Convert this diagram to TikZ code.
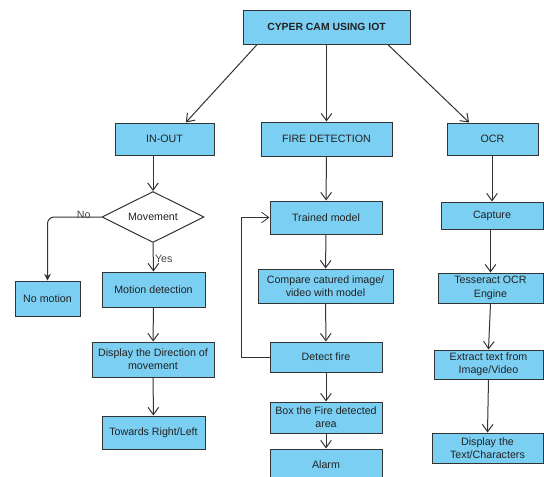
\documentclass[tikz,border=0pt]{standalone}
\usepackage{fontspec}
\setmainfont{Liberation Sans}
\usetikzlibrary{shapes.geometric,arrows.meta}
\definecolor{camblue}{HTML}{7BCFF3}
\definecolor{camline}{HTML}{333333}
\definecolor{camtext}{HTML}{222222}

\tikzset{
  camnode/.style={draw=camline, fill=camblue, line width=0.75pt, text=camtext,
    font=\fontsize{8}{10}\selectfont, align=center, inner sep=0pt},
  camlabel/.style={text=camtext!85, font=\fontsize{8}{10}\selectfont, inner sep=1pt},
  camarrow/.style={draw=camline, line width=0.75pt, -{Straight Barb[length=5.5pt,width=8pt]}},
}

\begin{document}
\begin{tikzpicture}[x=0.75pt,y=-0.75pt]
  \useasboundingbox (0,0) rectangle (544,476);

  % top and the three branches
  \node[camnode, font=\bfseries\fontsize{7.8}{9}\selectfont, minimum width=125.25pt, minimum height=25.5pt] (title) at (326.5,27) {CYPER CAM USING IOT};
  \node[camnode, minimum width=74.25pt, minimum height=24pt] (inout) at (164.5,139) {IN-OUT};
  \node[camnode, minimum width=98.25pt, minimum height=25.5pt] (fire) at (326.5,139) {FIRE DETECTION};
  \node[camnode, minimum width=68.25pt, minimum height=24pt] (ocr) at (492.5,139) {OCR};

  % in-out column
  \node[camnode, diamond, fill=white, aspect=2, minimum width=76.5pt, minimum height=38.25pt] (move) at (153,217) {Movement};
  \node[camnode, minimum width=48.75pt, minimum height=26.25pt] (nomotion) at (47.5,298.5) {No motion};
  \node[camnode, minimum width=77.25pt, minimum height=26.25pt] (motion) at (153.5,289.5) {Motion detection};
  \node[camnode, minimum width=91.5pt, minimum height=26.25pt] (direction) at (153,359.5) {Display the Direction of\\movement};
  \node[camnode, minimum width=77.25pt, minimum height=24.75pt] (towards) at (153.5,432.5) {Towards Right/Left};

  % fire column
  \node[camnode, minimum width=84pt, minimum height=24.75pt] (trained) at (326,217.5) {Trained model};
  \node[camnode, minimum width=101.25pt, minimum height=25.5pt] (compare) at (325.5,286) {Compare catured image/\\video with model};
  \node[camnode, minimum width=84pt, minimum height=22.5pt] (detect) at (326,357) {Detect fire};
  \node[camnode, minimum width=84pt, minimum height=23.25pt] (boxfire) at (326,417.5) {Box the Fire detected\\area};
  \node[camnode, minimum width=84pt, minimum height=23.25pt] (alarm) at (326,464.5) {Alarm};

  % ocr column
  \node[camnode, minimum width=76.5pt, minimum height=20.25pt] (capture) at (492,215.5) {Capture};
  \node[camnode, minimum width=78.75pt, minimum height=22.5pt] (tess) at (490.5,288) {Tesseract OCR\\Engine};
  \node[camnode, minimum width=81.75pt, minimum height=21.75pt] (extract) at (488.5,364.5) {Extract text from\\Image/Video};
  \node[camnode, minimum width=83.25pt, minimum height=22.5pt] (disptext) at (487.5,448) {Display the\\Text/Characters};

  % connectors
  \draw[camarrow] ([xshift=-52pt]title.south) -- ([xshift=16pt]inout.north);
  \draw[camarrow] (title.south) -- (fire.north);
  \draw[camarrow] ([xshift=46pt]title.south) -- ([xshift=-17.5pt]ocr.north);

  \draw[camarrow] (inout.south -| move.north) -- (move.north);
  \draw[camline, line width=0.75pt, rounded corners=5pt, -{Stealth[length=5pt,width=5pt]}] (move.west) -| (nomotion.north)
    node[camlabel, pos=0.165, yshift=1.5pt] {No};
  \draw[camarrow] (move.south) -- node[camlabel, right, yshift=-1pt] {Yes} (motion.north);
  \draw[camarrow] (motion) -- (direction);
  \draw[camarrow] (direction) -- (towards);

  \draw[camarrow] (fire) -- (trained);
  \draw[camarrow] (trained) -- (compare);
  \draw[camarrow] (compare) -- (detect);
  \draw[camarrow] (detect) -- (boxfire);
  \draw[camarrow] (boxfire) -- (alarm);
  \draw[camarrow, line width=0.6pt] (detect.west) -- ++(-21pt,0) |- (trained.west);

  \draw[camarrow] (ocr.south -| capture.north) -- (capture.north);
  \draw[camarrow] (capture.south -| tess.north) -- (tess.north);
  \draw[camarrow] (tess.south) -- (extract.north);
  \draw[camarrow] (extract.south) -- (disptext.north);
\end{tikzpicture}
\end{document}
